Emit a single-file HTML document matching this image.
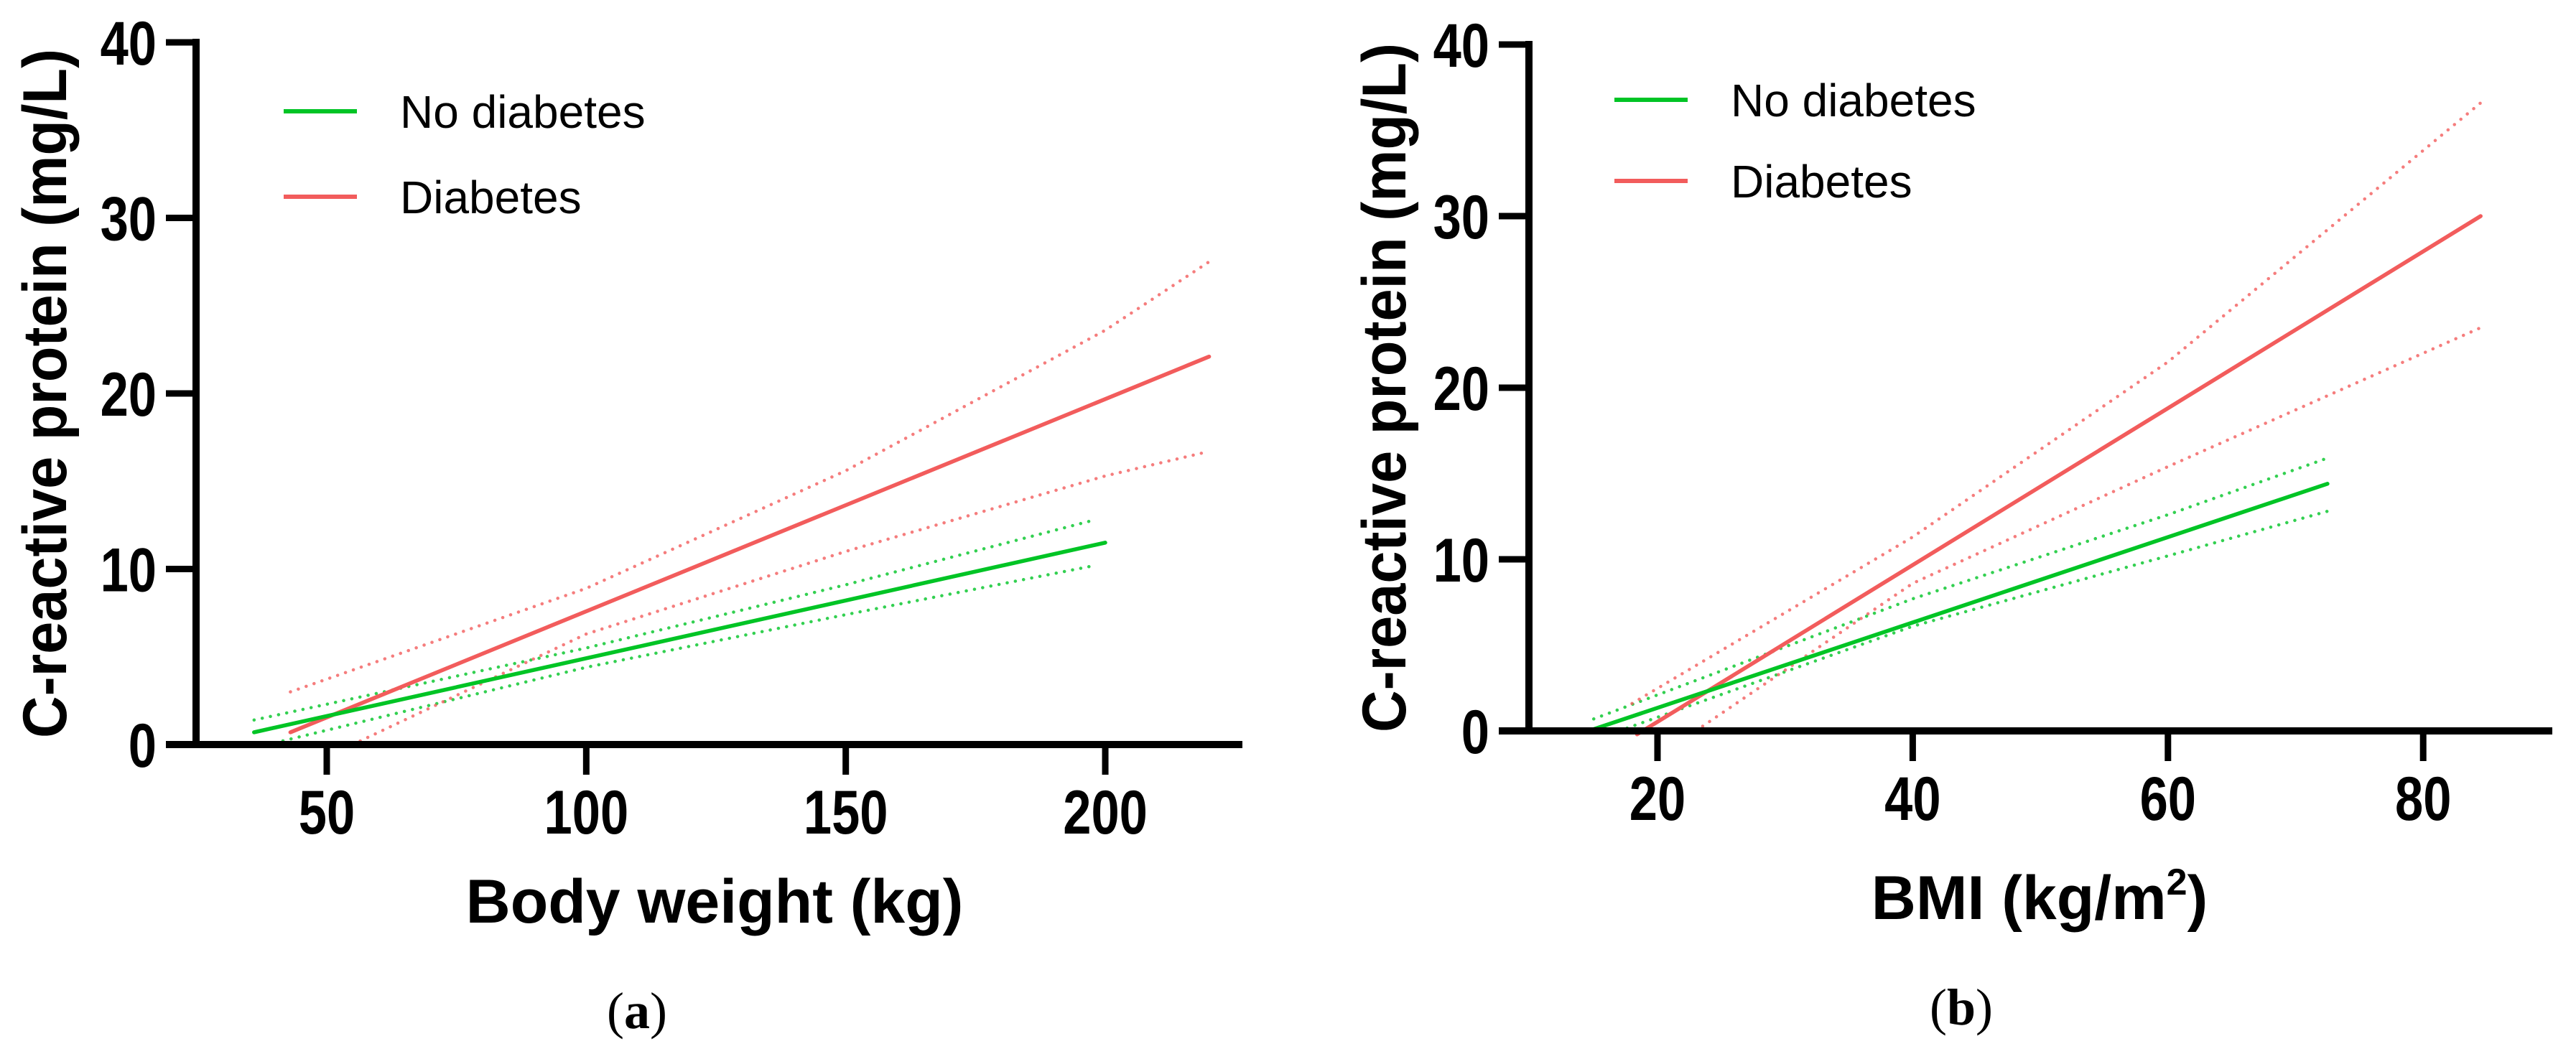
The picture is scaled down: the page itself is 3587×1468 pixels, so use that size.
<!DOCTYPE html>
<html><head><meta charset="utf-8"><style>
html,body{margin:0;padding:0;background:#fff;}
svg{display:block;}
text{font-family:"Liberation Sans",Arial,sans-serif;}
</style></head>
<body>
<svg id="fig" width="3587" height="1468" viewBox="0 0 3587 1468" xmlns="http://www.w3.org/2000/svg"></svg>
<script>
// ---- Panel (a): body weight ----
const aXTicks = [50, 100, 150, 200];
const aYTicks = [0, 10, 20, 30, 40];
const aNoDiabX = [36, 200];
const aNoDiabY = [0.7, 11.5];
const aNoDiabUpX = [36, 100, 150, 198];
const aNoDiabUpY = [1.4, 5.5, 9.1, 12.8];
const aNoDiabLoX = [40, 100, 150, 198];
const aNoDiabLoY = [0.1, 4.4, 7.4, 10.2];
const aDiabX = [43, 220];
const aDiabY = [0.7, 22.1];
const aDiabUpX = [43, 100, 150, 200, 220];
const aDiabUpY = [3.0, 8.9, 15.6, 23.6, 27.5];
const aDiabLoX = [55, 100, 150, 200, 220];
const aDiabLoY = [0.0, 6.3, 11.0, 15.3, 16.7];

// ---- Panel (b): BMI ----
const bXTicks = [20, 40, 60, 80];
const bYTicks = [0, 10, 20, 30, 40];
const bNoDiabX = [15, 72.5];
const bNoDiabY = [0.1, 14.4];
const bNoDiabUpX = [15, 40, 60, 72.5];
const bNoDiabUpY = [0.7, 7.7, 12.6, 15.9];
const bNoDiabLoX = [17, 40, 60, 72.5];
const bNoDiabLoY = [0.0, 6.1, 10.2, 12.8];
const bDiabX = [18.4, 84.5];
const bDiabY = [-0.2, 30.0];
const bDiabUpX = [18, 40, 60, 84.5];
const bDiabUpY = [1.6, 11.3, 21.5, 36.6];
const bDiabLoX = [23, 40, 60, 84.5];
const bDiabLoY = [0.0, 8.6, 15.4, 23.5];

const NS = "http://www.w3.org/2000/svg";
const svg = document.getElementById('fig');
const GREEN = "#00c425", RED = "#f25c5c";
function mk(tag, attrs, parent) {
  const e = document.createElementNS(NS, tag);
  for (const k in attrs) e.setAttribute(k, attrs[k]);
  (parent || svg).appendChild(e);
  return e;
}

function panel(cfg) {
  const g = mk('g', {});
  
  
  const sx = v => cfg.x0px + (v - cfg.x0v) * cfg.xs;
  const sy = v => cfg.y0px - v * cfg.ys;
  function line(xs, ys, color, dotted, nm) {
    const pts = xs.map((x, i) => sx(x).toFixed(1) + ',' + sy(ys[i]).toFixed(1)).join(' ');
    const p = mk('polyline', {points: pts, fill: 'none', stroke: color,
      'stroke-width': dotted ? 4 : 5.5, 'stroke-linecap': 'round'}, g);
    if (dotted) { p.setAttribute('stroke-dasharray', '0.1 11.5'); p.setAttribute('stroke-width', 4.5); p.setAttribute('opacity', '0.8'); }
    
    
  }
  line(cfg.gUpX, cfg.gUpY, GREEN, true, 'no-diabetes-ci-upper');
  line(cfg.gLoX, cfg.gLoY, GREEN, true, 'no-diabetes-ci-lower');
  line(cfg.rUpX, cfg.rUpY, RED, true, 'diabetes-ci-upper');
  line(cfg.rLoX, cfg.rLoY, RED, true, 'diabetes-ci-lower');
  line(cfg.rX, cfg.rY, RED, false, 'diabetes-line');
  line(cfg.gX, cfg.gY, GREEN, false, 'no-diabetes-line');
  const top = sy(40), bot = cfg.y0px;
  const ya = mk('line', {x1: cfg.yAxisX, y1: top - 5, x2: cfg.yAxisX, y2: bot + 5, stroke: '#000', 'stroke-width': 10}, g);
  
  
  const xa = mk('line', {x1: cfg.yAxisX - 42, y1: bot, x2: cfg.xEnd, y2: bot, stroke: '#000', 'stroke-width': 10}, g);
  
  
  cfg.yTicks.forEach(v => {
    mk('line', {x1: cfg.yAxisX - 42, y1: sy(v), x2: cfg.yAxisX, y2: sy(v), stroke: '#000', 'stroke-width': 9}, g);
    const t = mk('text', {x: 0, y: 0, 'text-anchor': 'end', 'font-size': 86, 'font-weight': 'bold',
      transform: `translate(${cfg.yAxisX - 55},${sy(v) + 31}) scale(0.82,1)`}, g);
    t.textContent = v;
    
    
  });
  cfg.xTicks.forEach(v => {
    mk('line', {x1: sx(v), y1: bot, x2: sx(v), y2: bot + 42, stroke: '#000', 'stroke-width': 9}, g);
    const t = mk('text', {x: 0, y: 0, 'text-anchor': 'middle', 'font-size': 86, 'font-weight': 'bold',
      transform: `translate(${sx(v)},${bot + 124}) scale(0.82,1)`}, g);
    t.textContent = v;
    
    
  });
  const yt = mk('text', {x: 0, y: 0, 'text-anchor': 'middle', 'font-size': 86, 'font-weight': 'bold',
    transform: `translate(${cfg.yTitleX},${(top + bot) / 2}) rotate(-90)`, textLength: 960, lengthAdjust: 'spacingAndGlyphs'}, g);
  yt.textContent = 'C-reactive protein (mg/L)';
  
  
  const xt = mk('text', {x: cfg.xTitleX, y: cfg.xTitleY, 'text-anchor': 'middle', 'font-size': 86, 'font-weight': 'bold'}, g);
  xt.innerHTML = cfg.xTitle;
  
  
  [[GREEN, 'No diabetes', cfg.legY1, 'legend-no-diabetes'], [RED, 'Diabetes', cfg.legY2, 'legend-diabetes']].forEach(L => {
    const lg = mk('g', {}, g);
    
    
    mk('line', {x1: cfg.legX, y1: L[2], x2: cfg.legX + 102, y2: L[2], stroke: L[0], 'stroke-width': 6}, lg);
    const t = mk('text', {x: cfg.legX + 162, y: L[2] + 23, 'font-size': 64}, lg);
    t.textContent = L[1];
  });
  const pl = mk('text', {x: cfg.labX, y: cfg.labY, 'text-anchor': 'middle', 'font-size': 72,
    style: 'font-family:"Liberation Serif",serif'}, g);
  pl.innerHTML = cfg.lab;
  
  
}

panel({name: 'panel-a-body-weight', x0px: 455, x0v: 50, xs: 7.227, y0px: 1037, ys: 24.45,
  yAxisX: 273, xEnd: 1730, xTicks: aXTicks, yTicks: aYTicks,
  gX: aNoDiabX, gY: aNoDiabY, gUpX: aNoDiabUpX, gUpY: aNoDiabUpY, gLoX: aNoDiabLoX, gLoY: aNoDiabLoY,
  rX: aDiabX, rY: aDiabY, rUpX: aDiabUpX, rUpY: aDiabUpY, rLoX: aDiabLoX, rLoY: aDiabLoY,
  yTitleX: 92, xTitle: 'Body weight (kg)', xTitleX: 995, xTitleY: 1285,
  legX: 395, legY1: 155, legY2: 274, lab: '(<tspan font-weight="bold">a</tspan>)', labX: 887, labY: 1432});

panel({name: 'panel-b-bmi', x0px: 2308, x0v: 20, xs: 17.77, y0px: 1018, ys: 23.9,
  yAxisX: 2129, xEnd: 3554, xTicks: bXTicks, yTicks: bYTicks,
  gX: bNoDiabX, gY: bNoDiabY, gUpX: bNoDiabUpX, gUpY: bNoDiabUpY, gLoX: bNoDiabLoX, gLoY: bNoDiabLoY,
  rX: bDiabX, rY: bDiabY, rUpX: bDiabUpX, rUpY: bDiabUpY, rLoX: bDiabLoX, rLoY: bDiabLoY,
  yTitleX: 1957, xTitle: 'BMI (kg/m<tspan font-size="52" dy="-34">2</tspan><tspan dy="34">)</tspan>', xTitleX: 2840, xTitleY: 1280,
  legX: 2248, legY1: 139, legY2: 252, lab: '(<tspan font-weight="bold">b</tspan>)', labX: 2731, labY: 1427});
</script>
</body></html>
